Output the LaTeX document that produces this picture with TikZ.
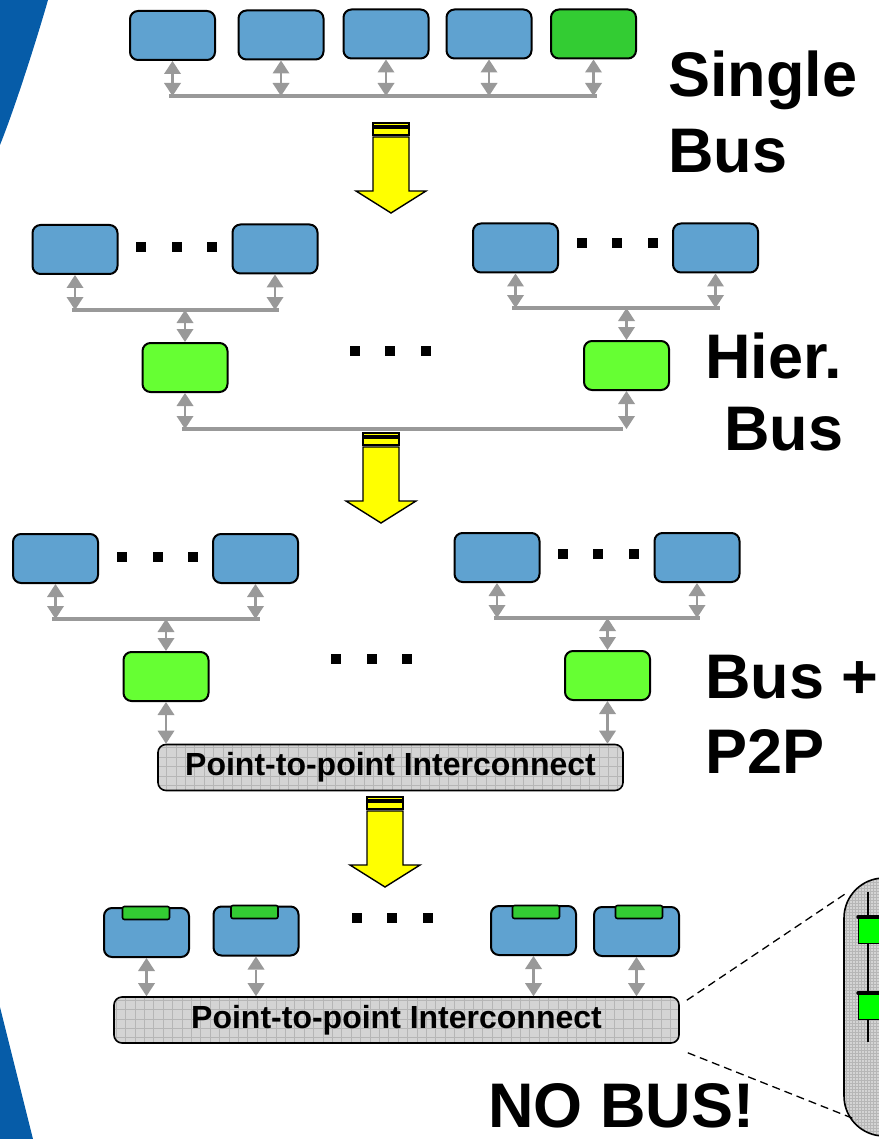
\documentclass[tikz,border=0pt]{standalone}
\usepackage{fontspec}
\setmainfont{Liberation Sans}
\usetikzlibrary{arrows.meta}

\definecolor{boxblue}{RGB}{95,162,208}
\definecolor{hubgreen}{RGB}{102,255,51}
\definecolor{tabgreen}{RGB}{51,204,51}
\definecolor{busgray}{RGB}{153,153,153}
\definecolor{edgeblue}{RGB}{6,92,168}
\definecolor{netgray}{RGB}{212,212,212}
\definecolor{netgrid}{RGB}{182,182,182}
\definecolor{pinggreen}{RGB}{0,255,0}
\definecolor{stepyellow}{RGB}{255,255,0}

\tikzset{
  unit/.style={draw=black, line width=2pt, rounded corners=8pt, fill=boxblue,
    minimum width=85pt, minimum height=49pt, inner sep=0pt},
  hub/.style={unit, fill=hubgreen},
  core/.style={unit, fill=tabgreen},
  tab/.style={draw=black, line width=1.6pt, rounded corners=2pt, fill=tabgreen,
    minimum width=47pt, minimum height=13pt, inner sep=0pt},
  gtip/.tip={Triangle[width=17pt, length=13pt, fill=busgray, line width=0pt]},
  link/.style={draw=busgray, line width=2.6pt, arrows={gtip-gtip}},
  busline/.style={busgray, line width=3.8pt},
  gapdot/.style={fill=black, minimum size=10pt, inner sep=0pt},
  heading/.style={font=\fontsize{63}{63}\selectfont\bfseries, anchor=base west, inner sep=0pt},
  net/.style={draw=black, line width=1.6pt, rounded corners=8pt, fill=netgray,
    minimum height=46pt, inner sep=0pt, font=\fontsize{32}{32}\selectfont\bfseries,
    path picture={\draw[netgrid, line width=0.5pt, step=9.4pt]
      (path picture bounding box.south west) grid (path picture bounding box.north east);}},
  shiftarrow/.pic={
    \filldraw[fill=stepyellow, draw=black, line width=1.4pt] (-18,0) rectangle (18,3);
    \filldraw[fill=stepyellow, draw=black, line width=1.4pt] (-18,5) rectangle (18,12);
    \filldraw[fill=stepyellow, draw=black, line width=1.4pt, line join=miter]
      (-18,14) -- (-18,68) -- (-35,68) -- (0,90) -- (35,68) -- (18,68) -- (18,14) -- cycle;
  },
}

\begin{document}
\begin{tikzpicture}[x=1pt, y=-1pt]
\useasboundingbox (0,0) rectangle (878,1139);

% corner decoration
\fill[edgeblue] (0,0) -- (48,0) .. controls (38,35) and (16,105) .. (0,145) -- cycle;
\fill[edgeblue] (0,1007) -- (33,1139) -- (0,1139) -- cycle;

% ---------------- single bus ----------------
\node[unit] (a1) at (172.5,35.5) {};
\node[unit] (a2) at (281,35) {};
\node[unit] (a3) at (386,34) {};
\node[unit] (a4) at (489,34) {};
\node[core] (a5) at (593.5,34) {};
\coordinate (bus1w) at (169,96);
\coordinate (bus1e) at (597,96);
\draw[busline] (bus1w) -- (bus1e);
\foreach \n in {a1,a2,a3,a4,a5}
  \draw[link] (\n.south) -- (\n.south |- bus1w);
\node[heading] (t1) at (668,97) {Single};
\node[heading] (t2) at (668,173) {Bus};

\pic at (391,123) {shiftarrow};

% ---------------- hierarchical bus ----------------
\node[unit] (b1) at (75,249.5) {};
\node[unit] (b2) at (275,249) {};
\node[gapdot] (bd1) at (141,247) {};
\node[gapdot] (bd2) at (177,247) {};
\node[gapdot] (bd3) at (212,247) {};
\coordinate (bus2aw) at (72,310);
\coordinate (bus2ae) at (279,310);
\draw[busline] (bus2aw) -- (bus2ae);
\draw[link] (b1.south) -- (b1.south |- bus2aw);
\draw[link] (b2.south) -- (b2.south |- bus2aw);
\node[hub] (g1) at (185,367.5) {};
\draw[link] (g1.north |- bus2aw) -- (g1.north);

\node[unit] (b3) at (515.5,248) {};
\node[unit] (b4) at (715.5,248) {};
\node[gapdot] (bd4) at (582,243) {};
\node[gapdot] (bd5) at (617,243) {};
\node[gapdot] (bd6) at (653,243) {};
\coordinate (bus2bw) at (512,308);
\coordinate (bus2be) at (720,308);
\draw[busline] (bus2bw) -- (bus2be);
\draw[link] (b3.south) -- (b3.south |- bus2bw);
\draw[link] (b4.south) -- (b4.south |- bus2bw);
\node[hub] (g2) at (626.5,365.5) {};
\draw[link] (g2.north |- bus2bw) -- (g2.north);

\node[gapdot] (md1) at (355,351) {};
\node[gapdot] (md2) at (390,351) {};
\node[gapdot] (md3) at (426,351) {};

\coordinate (bus2cw) at (182,429);
\coordinate (bus2ce) at (623,429);
\draw[busline] (bus2cw) -- (bus2ce);
\draw[link] (g1.south) -- (g1.south |- bus2cw);
\draw[link] (g2.south) -- (g2.south |- bus2cw);

\node[heading] (t3) at (705,378) {Hier.};
\node[heading] (t4) at (724,450) {Bus};

\pic at (381,433) {shiftarrow};

% ---------------- bus + point-to-point ----------------
\node[unit] (c1) at (55.5,558.5) {};
\node[unit] (c2) at (255.5,558.5) {};
\node[gapdot] (cd1) at (122,557) {};
\node[gapdot] (cd2) at (158,557) {};
\node[gapdot] (cd3) at (193,557) {};
\coordinate (bus3aw) at (52,619);
\coordinate (bus3ae) at (260,619);
\draw[busline] (bus3aw) -- (bus3ae);
\draw[link] (c1.south) -- (c1.south |- bus3aw);
\draw[link] (c2.south) -- (c2.south |- bus3aw);
\node[hub] (g3) at (166,676.5) {};
\draw[link] (g3.north |- bus3aw) -- (g3.north);

\node[unit] (c3) at (497,557.5) {};
\node[unit] (c4) at (697,557.5) {};
\node[gapdot] (cd4) at (563,554) {};
\node[gapdot] (cd5) at (598,554) {};
\node[gapdot] (cd6) at (634,554) {};
\coordinate (bus3bw) at (494,618);
\coordinate (bus3be) at (700,618);
\draw[busline] (bus3bw) -- (bus3be);
\draw[link] (c3.south) -- (c3.south |- bus3bw);
\draw[link] (c4.south) -- (c4.south |- bus3bw);
\node[hub] (g4) at (607.5,675.5) {};
\draw[link] (g4.north |- bus3bw) -- (g4.north);

\node[gapdot] (nd1) at (336,659) {};
\node[gapdot] (nd2) at (372,659) {};
\node[gapdot] (nd3) at (407,659) {};

\node[net, minimum width=465pt] (p2p1) at (390.5,767.5) {Point-to-point Interconnect};
\draw[link] (g3.south) -- (g3.south |- p2p1.north);
\draw[link] (g4.south) -- (g4.south |- p2p1.north);

\node[heading] (t5) at (705,698) {Bus +};
\node[heading] (t6) at (705,773) {P2P};

\pic at (385,797) {shiftarrow};

% ---------------- no bus ----------------
\node[unit] (d1) at (146.5,932.5) {};
\node[unit] (d2) at (256,931) {};
\node[unit] (d3) at (533.5,930.5) {};
\node[unit] (d4) at (636.5,931.5) {};
\node[tab] (e1) at (146,913) {};
\node[tab] (e2) at (254.5,912) {};
\node[tab] (e3) at (536,912) {};
\node[tab] (e4) at (639,912) {};
\node[gapdot] (dd1) at (357,918) {};
\node[gapdot] (dd2) at (392,918) {};
\node[gapdot] (dd3) at (428,918) {};

\node[net, minimum width=565pt] (p2p2) at (396.5,1020) {Point-to-point Interconnect};
\foreach \n in {d1,d2,d3,d4}
  \draw[link] (\n.south) -- (\n.south |- p2p2.north);

\node[heading] (t7) at (488,1127) {NO BUS!};

% magnified view of the interconnect
\path[draw=black, fill=netgray, line width=1.6pt, rounded corners=40pt,
  path picture={\draw[netgrid, line width=0.4pt, step=3pt]
    (path picture bounding box.south west) grid (path picture bounding box.north east);}]
  (844,878) rectangle (930,1136);
\draw[black, line width=2.5pt] (868,892) -- (868,1042);
\filldraw[fill=pinggreen, draw=black, line width=0.8pt] (858,918) rectangle (900,943);
\filldraw[fill=pinggreen, draw=black, line width=0.8pt] (858,994) rectangle (900,1019);
\draw[black, line width=3.5pt, line cap=round] (858,917) -- (900,917);
\draw[black, line width=3.5pt, line cap=round] (858,993) -- (900,993);

\coordinate (zoomtop) at (848,892);
\coordinate (zoombot) at (857,1120);
\draw[black, line width=1.3pt, dash pattern=on 8pt off 5pt]
  ([shift={(7,4)}]p2p2.north east) -- (zoomtop);
\draw[black, line width=1.3pt, dash pattern=on 8pt off 5pt]
  ([shift={(8,9)}]p2p2.south east) -- (zoombot);
\end{tikzpicture}
\end{document}
